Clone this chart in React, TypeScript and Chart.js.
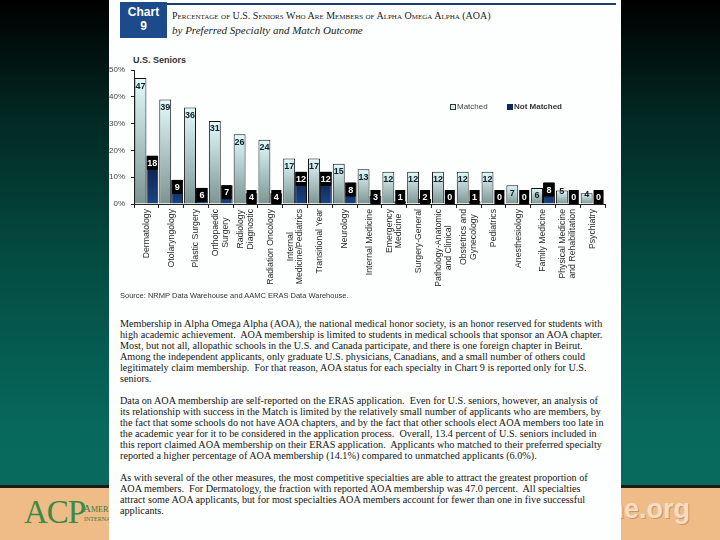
import React, { useEffect, useRef } from "react";
import { Chart, registerables } from "chart.js";
Chart.register(...registerables);

const categories: string[][] = [
  ["Dermatology"],
  ["Otolaryngology"],
  ["Plastic Surgery"],
  ["Orthopaedic", "Surgery"],
  ["Radiology", "Diagnostic"],
  ["Radiation Oncology"],
  ["Internal", "Medicine/Pediatrics"],
  ["Transitional Year"],
  ["Neurology"],
  ["Internal Medicine"],
  ["Emergency", "Medicine"],
  ["Surgery-General"],
  ["Pathology-Anatomic", "and Clinical"],
  ["Obstetrics and", "Gynecology"],
  ["Pediatrics"],
  ["Anesthesiology"],
  ["Family Medicine"],
  ["Physical Medicine", "and Rehabilitation"],
  ["Psychiatry"],
];
const matched = [47, 39, 36, 31, 26, 24, 17, 17, 15, 13, 12, 12, 12, 12, 12, 7, 6, 5, 4];
const notMatched = [18, 9, 6, 7, 4, 4, 12, 12, 8, 3, 1, 2, 0, 1, 0, 0, 8, 0, 0];
const seriesNames = ["Matched", "Not Matched"];
const yMax = 50;
const yStep = 10;

const para1 = [
  "Membership in Alpha Omega Alpha (AOA), the national medical honor society, is an honor reserved for students with",
  "high academic achievement.  AOA membership is limited to students in medical schools that sponsor an AOA chapter.",
  "Most, but not all, allopathic schools in the U.S. and Canada participate, and there is one foreign chapter in Beirut.",
  "Among the independent applicants, only graduate U.S. physicians, Canadians, and a small number of others could",
  "legitimately claim membership.  For that reason, AOA status for each specialty in Chart 9 is reported only for U.S.",
  "seniors.",
];
const para2 = [
  "Data on AOA membership are self-reported on the ERAS application.  Even for U.S. seniors, however, an analysis of",
  "its relationship with success in the Match is limited by the relatively small number of applicants who are members, by",
  "the fact that some schools do not have AOA chapters, and by the fact that other schools elect AOA members too late in",
  "the academic year for it to be considered in the application process.  Overall, 13.4 percent of U.S. seniors included in",
  "this report claimed AOA membership on their ERAS application.  Applicants who matched to their preferred specialty",
  "reported a higher percentage of AOA membership (14.1%) compared to unmatched applicants (6.0%).",
];
const para3 = [
  "As with several of the other measures, the most competitive specialties are able to attract the greatest proportion of",
  "AOA members.  For Dermatology, the fraction with reported AOA membership was 47.0 percent.  All specialties",
  "attract some AOA applicants, but for most specialties AOA members account for fewer than one in five successful",
  "applicants.",
];

const SANS = "'Liberation Sans', Arial, sans-serif";
const SERIF = "'Liberation Serif', 'Times New Roman', serif";

const valueLabels = {
  id: "valueLabels",
  afterDatasetsDraw(chart: any) {
    const ctx = chart.ctx;
    const base = chart.scales.y.getPixelForValue(0);
    chart.data.datasets.forEach((ds: any, di: number) => {
      const meta = chart.getDatasetMeta(di);
      meta.data.forEach((bar: any, i: number) => {
        const v = ds.data[i];
        const { x, y, width } = bar.getProps(["x", "y", "width"], true);
        const txt = String(v);
        ctx.save();
        ctx.font = `bold 9px ${SANS}`;
        ctx.textAlign = "center";
        ctx.textBaseline = "middle";
        if (di === 0) {
          const h = base - y;
          const cy = h >= 14 ? y + 8 : y + 1;
          ctx.fillStyle = "#0c1f2c";
          ctx.fillText(txt, x, cy);
        } else {
          const bh = 14;
          const top = Math.min(y, base - bh);
          const tw = ctx.measureText(txt).width;
          const bw = Math.min(width - 1, tw + 5);
          ctx.fillStyle = "#000";
          ctx.fillRect(x - bw / 2, top, bw, bh);
          ctx.fillStyle = "#fff";
          ctx.fillText(txt, x, top + bh / 2 + 0.5);
        }
        ctx.restore();
      });
    });
  },
};

const xLabels = {
  id: "xLabels",
  afterDraw(chart: any) {
    const sx = chart.scales.x;
    const ctx = chart.ctx;
    const top = sx.top + 5;
    ctx.save();
    ctx.font = `8.7px ${SANS}`;
    ctx.fillStyle = "#2a2a2a";
    ctx.textAlign = "center";
    ctx.textBaseline = "middle";
    const lh = 9.6;
    categories.forEach((lines, i) => {
      const x = sx.getPixelForTick(i);
      const maxW = Math.max(...lines.map((l) => ctx.measureText(l).width));
      ctx.save();
      ctx.translate(x, top + maxW / 2);
      ctx.rotate(-Math.PI / 2);
      lines.forEach((l, j) => ctx.fillText(l, 0, (j - (lines.length - 1) / 2) * lh));
      ctx.restore();
    });
    ctx.restore();
  },
};

const legendPlugin = {
  id: "customLegend",
  afterDraw(chart: any) {
    const ctx = chart.ctx;
    const y = 57;
    ctx.save();
    ctx.textBaseline = "middle";
    ctx.font = `8px ${SANS}`;
    ctx.fillStyle = "#cfeeee";
    ctx.fillRect(350, y - 3, 6, 6);
    ctx.strokeStyle = "#333";
    ctx.lineWidth = 1;
    ctx.strokeRect(350.5, y - 2.5, 5, 5);
    ctx.fillStyle = "#444";
    ctx.fillText(seriesNames[0], 357, y);
    ctx.fillStyle = "#0d2a5c";
    ctx.fillRect(407, y - 3, 6, 6);
    ctx.font = `bold 8px ${SANS}`;
    ctx.fillStyle = "#333";
    ctx.fillText(seriesNames[1], 414, y);
    ctx.restore();
  },
};

function ChartBox() {
  const ref = useRef<HTMLCanvasElement | null>(null);
  useEffect(() => {
    if (!ref.current) return;
    const gradFor = (c: any, top: string, bottom: string, fallback: string) => {
      const chart = c.chart;
      const ys = chart.scales && chart.scales.y;
      if (!chart.chartArea || !ys) return fallback;
      const v = c.raw as number;
      const y0 = ys.getPixelForValue(0);
      let y1 = ys.getPixelForValue(v);
      if (y0 - y1 < 1) y1 = y0 - 1;
      const g = chart.ctx.createLinearGradient(0, y1, 0, y0);
      g.addColorStop(0, top);
      g.addColorStop(1, bottom);
      return g;
    };
    const chart = new Chart(ref.current, {
      type: "bar",
      data: {
        labels: categories,
        datasets: [
          {
            label: seriesNames[0],
            data: matched,
            backgroundColor: (c: any) => gradFor(c, "#e2fbfb", "#7b9492", "#b7d6d6"),
            borderColor: "#111",
            borderWidth: 1,
            categoryPercentage: 0.96,
            barPercentage: 1,
          },
          {
            label: seriesNames[1],
            data: notMatched,
            backgroundColor: (c: any) => gradFor(c, "#071a3c", "#1c4585", "#12336a"),
            borderColor: "#0a0a0a",
            borderWidth: 1,
            categoryPercentage: 0.96,
            barPercentage: 1,
          },
        ],
      },
      options: {
        animation: false,
        responsive: false,
        maintainAspectRatio: false,
        layout: { padding: { left: 0, right: 11, top: 20, bottom: 0 } },
        plugins: { legend: { display: false }, tooltip: { enabled: false }, title: { display: false } },
        scales: {
          x: {
            grid: { display: true, drawOnChartArea: false, drawTicks: true, tickLength: 4, color: "#222", offset: true },
            border: { display: true, color: "#222", width: 1 },
            ticks: { display: false },
            afterFit: (s: any) => {
              s.height = 96;
            },
          },
          y: {
            min: 0,
            max: yMax,
            ticks: {
              stepSize: yStep,
              callback: (v: any) => v + "%",
              font: { size: 8, family: SANS },
              color: "#444",
              padding: 6,
            },
            grid: { display: true, drawOnChartArea: false, drawTicks: true, tickLength: 3, color: "#222" },
            border: { display: true, color: "#222", width: 1 },
            afterFit: (s: any) => {
              s.width = 34;
            },
          },
        },
      },
      plugins: [valueLabels, xLabels, legendPlugin],
    } as any);
    return () => chart.destroy();
  }, []);
  return (
    <canvas
      ref={ref}
      width={516}
      height={250}
      style={{ position: "absolute", left: 100, top: 50, width: 516, height: 250 }}
    />
  );
}

function Lines({ lines, top }: { lines: string[]; top: number }) {
  return (
    <div
      style={{
        position: "absolute",
        left: 120,
        top,
        fontFamily: SERIF,
        fontSize: 10.2,
        lineHeight: "11px",
        color: "#151515",
        whiteSpace: "pre",
      }}
    >
      {lines.map((l, i) => (
        <div key={i}>{l}</div>
      ))}
    </div>
  );
}

export default function App() {
  return (
    <div
      style={{
        position: "fixed",
        left: 0,
        top: 0,
        width: 720,
        height: 540,
        overflow: "hidden",
        background: "#efbb87",
      }}
    >
      <div
        style={{
          position: "absolute",
          left: 0,
          top: 0,
          width: 720,
          height: 486,
          background: "linear-gradient(180deg, #000000 0%, #022a24 25%, #044d43 55%, #07685c 88%, #08695d 100%)",
        }}
      />
      <div style={{ position: "absolute", left: 0, top: 485, width: 720, height: 3, background: "#1a1a1a" }} />
      <div
        style={{
          position: "absolute",
          left: 24,
          top: 494,
          fontFamily: SERIF,
          fontSize: 33,
          color: "#3b8a45",
          letterSpacing: -1,
        }}
      >
        ACP
      </div>
      <div style={{ position: "absolute", left: 83, top: 502, fontFamily: SERIF, fontSize: 11, color: "#3b7a45", fontVariant: "small-caps" }}>
        American College of Physicians
      </div>
      <div style={{ position: "absolute", left: 84, top: 516, fontFamily: SERIF, fontSize: 6, color: "#3b7a45" }}>
        INTERNAL MEDICINE | Doctors for Adults
      </div>
      <div
        style={{
          position: "absolute",
          right: 30,
          top: 494,
          fontFamily: SANS,
          fontWeight: "bold",
          fontSize: 27,
          color: "#f7dcc2",
          textShadow: "1px 1px 0 #c79767",
          whiteSpace: "nowrap",
        }}
      >
        www.acponline.org
      </div>

      <div style={{ position: "absolute", left: 109, top: 0, width: 512, height: 540, background: "#fdfefe" }} />
      <div style={{ position: "absolute", left: 120, top: 3, width: 496, height: 2, background: "#1d3c6e" }} />
      <div
        style={{
          position: "absolute",
          left: 120,
          top: 2,
          width: 47,
          height: 36,
          background: "#1c4a8a",
          color: "#fff",
          fontFamily: SANS,
          fontWeight: "bold",
          fontSize: 12,
          lineHeight: "14px",
          textAlign: "center",
          paddingTop: 3,
          boxSizing: "border-box",
        }}
      >
        Chart
        <br />9
      </div>
      <div
        style={{
          position: "absolute",
          left: 172,
          top: 10,
          fontFamily: SERIF,
          fontSize: 10,
          fontVariant: "small-caps",
          color: "#1a1a1a",
          whiteSpace: "nowrap",
        }}
      >
        Percentage of U.S. Seniors Who Are Members of Alpha Omega Alpha (AOA)
      </div>
      <div
        style={{
          position: "absolute",
          left: 172,
          top: 24,
          fontFamily: SERIF,
          fontSize: 11,
          fontStyle: "italic",
          color: "#1a1a1a",
          whiteSpace: "nowrap",
        }}
      >
        by Preferred Specialty and Match Outcome
      </div>
      <div
        style={{
          position: "absolute",
          left: 133,
          top: 55,
          fontFamily: SANS,
          fontSize: 9,
          fontWeight: "bold",
          color: "#333",
        }}
      >
        U.S. Seniors
      </div>

      <ChartBox />

      <div
        style={{
          position: "absolute",
          left: 120,
          top: 291,
          fontFamily: SANS,
          fontSize: 7.5,
          color: "#333",
          whiteSpace: "nowrap",
        }}
      >
        Source: NRMP Data Warehouse and AAMC ERAS Data Warehouse.
      </div>

      <Lines lines={para1} top={318} />
      <Lines lines={para2} top={395} />
      <Lines lines={para3} top={472} />
    </div>
  );
}
